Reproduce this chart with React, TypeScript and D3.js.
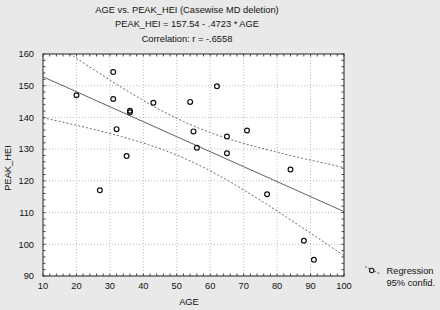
import React from "react";
import * as d3 from "d3";

const ages = [20, 31, 31, 36, 36, 32, 35, 27, 43, 54, 62, 55, 65, 71, 56, 65, 84, 77, 88, 91];
const peakHei = [147, 154.3, 145.8, 142.1, 141.6, 136.3, 127.8, 117, 144.6, 144.9, 149.8, 135.6, 134, 135.9, 130.4, 128.7, 123.6, 115.8, 101.1, 95.1];
const xTicks = [10, 20, 30, 40, 50, 60, 70, 80, 90, 100];
const yTicks = [90, 100, 110, 120, 130, 140, 150, 160];
const titleLines = [
  "AGE vs. PEAK_HEI (Casewise MD deletion)",
  "PEAK_HEI = 157.54 - .4723 * AGE",
  "Correlation: r = -.6558",
];
const intercept = 157.54;
const slope = -0.4723;
const tCrit = 2.101;

const W = 440, H = 310;
const L = 43, R = 344, T = 54, B = 276;

export default function App() {
  const x = d3.scaleLinear().domain([10, 100]).range([L, R]);
  const y = d3.scaleLinear().domain([90, 160]).range([B, T]);
  const n = ages.length;
  const xbar = d3.mean(ages)!;
  const sxx = d3.sum(ages, (a) => (a - xbar) ** 2);
  const sse = d3.sum(ages, (a, i) => (peakHei[i] - (intercept + slope * a)) ** 2);
  const s = Math.sqrt(sse / (n - 2));
  const grid = d3.range(10, 100.01, 0.5);
  const half = (a: number) => tCrit * s * Math.sqrt(1 / n + (a - xbar) ** 2 / sxx);
  const mk = (f: (a: number) => number) =>
    d3.line<number>().x((a) => x(a)).y((a) => y(f(a)))(grid) || "";
  const regPath = mk((a) => intercept + slope * a);
  const upPath = mk((a) => intercept + slope * a + half(a));
  const loPath = mk((a) => intercept + slope * a - half(a));
  const minorX = d3.range(10, 100.01, 2);
  const minorY = d3.range(90, 160.01, 2);
  const font = "Liberation Sans, Arial, sans-serif";
  const fs = 9.3;
  const titleX = 187;
  return (
    <svg width={W} height={H} style={{ position: "absolute", left: 0, top: 0 }} fontFamily={font}>
      <defs>
        <clipPath id="plotclip">
          <rect x={L} y={T} width={R - L} height={B - T} />
        </clipPath>
      </defs>
      <rect x={0} y={0} width={W} height={H} fill="#e9e9e9" />
      {titleLines.map((t, i) => (
        <text key={i} x={titleX} y={12.5 + i * 14.5} textAnchor="middle" fontSize={fs} fill="#111">{t}</text>
      ))}
      <rect x={L} y={T} width={R - L} height={B - T} fill="#fff" />
      {xTicks.slice(1, -1).map((v) => (
        <line key={"gx" + v} x1={x(v)} x2={x(v)} y1={T} y2={B} stroke="#aaa" strokeWidth={0.8} strokeDasharray="1,2" />
      ))}
      {yTicks.slice(1, -1).map((v) => (
        <line key={"gy" + v} x1={L} x2={R} y1={y(v)} y2={y(v)} stroke="#aaa" strokeWidth={0.8} strokeDasharray="1,2" />
      ))}
      <g clipPath="url(#plotclip)">
        <path d={upPath} fill="none" stroke="#666" strokeWidth={1} strokeDasharray="2,2" />
        <path d={loPath} fill="none" stroke="#666" strokeWidth={1} strokeDasharray="2,2" />
        <path d={regPath} fill="none" stroke="#555" strokeWidth={1} />
      </g>
      {ages.map((a, i) => (
        <circle key={"p" + i} cx={x(a)} cy={y(peakHei[i])} r={2.4} fill="none" stroke="#111" strokeWidth={1.2} />
      ))}
      {minorX.map((v) => (
        <g key={"mx" + v}>
          <line x1={x(v)} x2={x(v)} y1={B} y2={B - 2.5} stroke="#444" strokeWidth={1} />
          <line x1={x(v)} x2={x(v)} y1={T} y2={T + 2.5} stroke="#444" strokeWidth={1} />
        </g>
      ))}
      {minorY.map((v) => (
        <g key={"my" + v}>
          <line x1={L} x2={L + 2.5} y1={y(v)} y2={y(v)} stroke="#444" strokeWidth={1} />
          <line x1={R} x2={R - 2.5} y1={y(v)} y2={y(v)} stroke="#444" strokeWidth={1} />
        </g>
      ))}
      <rect x={L} y={T} width={R - L} height={B - T} fill="none" stroke="#444" strokeWidth={1.2} />
      {xTicks.map((v) => (
        <text key={"xt" + v} x={x(v)} y={289} textAnchor="middle" fontSize={fs} fill="#111">{v}</text>
      ))}
      {yTicks.map((v) => (
        <text key={"yt" + v} x={34} y={y(v) + 3.3} textAnchor="end" fontSize={fs} fill="#111">{v}</text>
      ))}
      <text x={189} y={305} textAnchor="middle" fontSize={fs} fill="#111">AGE</text>
      <text transform="translate(11,168) rotate(-90)" textAnchor="middle" fontSize={fs} fill="#111">PEAK_HEI</text>
      <line x1={365} y1={266.5} x2={380} y2={274} stroke="#555" strokeWidth={1} strokeDasharray="2,1.5" />
      <circle cx={371.7} cy={270.5} r={2.2} fill="#e9e9e9" stroke="#111" strokeWidth={1.1} />
      <text x={386.5} y={273.5} fontSize={fs} fill="#111">Regression</text>
      <text x={386.5} y={286} fontSize={fs} fill="#111">95% confid.</text>
    </svg>
  );
}
